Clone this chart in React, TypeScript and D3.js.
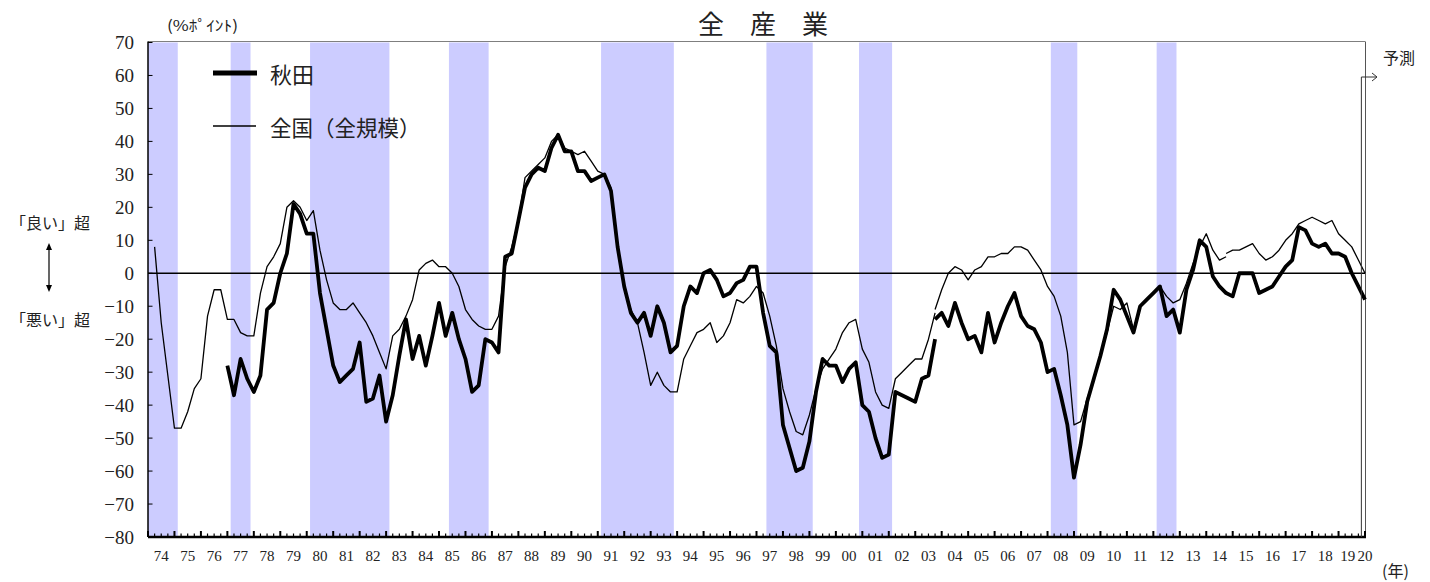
import React from 'react';
import * as d3 from 'd3';

// ---- categories (quarters, 1974Q1 .. 2020Q1) ----
const FIRST_YEAR = 1974;
const LAST_KEY = '2020Q1';
const quarters: string[] = [];
for (let yr = FIRST_YEAR; yr <= 2020; yr++) {
  for (let q = 1; q <= 4; q++) {
    const k = `${yr}Q${q}`;
    quarters.push(k);
    if (k === LAST_KEY) break;
  }
}
const years: number[] = d3.range(FIRST_YEAR, 2021);

// ---- Akita (thick line), old basis 1977Q1..2003Q4 ----
const akitaOldStart = '1977Q1';
const akitaOld = [
  -28, -37, -26, -32, -36, -31, -11, -9,
  0, 6, 21, 18, 12, 12, -6, -17,
  -28, -33, -31, -29, -21, -39, -38, -31,
  -45, -37, -25, -14, -26, -19, -28, -19,
  -9, -19, -12, -20, -26, -36, -34, -20,
  -21, -24, 5, 6, 16, 26, 30, 32,
  31, 38, 42, 37, 37, 31, 31, 28,
  29, 30, 25, 8, -4, -12, -15, -12,
  -19, -10, -15, -24, -22, -10, -4, -6,
  0, 1, -2, -7, -6, -3, -2, 2,
  2, -12, -22, -24, -46, -53, -60, -59,
  -51, -36, -26, -28, -28, -33, -29, -27,
  -40, -42, -50, -56, -55, -36, -37, -38,
  -39, -32, -31, -20,
];
// ---- Akita, new basis 2003Q4..2020Q1 ----
const akitaNewStart = '2003Q4';
const akitaNew = [
  -14, -12, -16, -9, -15, -20, -19, -24,
  -12, -21, -15, -10, -6, -13, -16, -17,
  -21, -30, -29, -37, -46, -62, -52, -39,
  -32, -25, -17, -5, -8, -13, -18, -10,
  -8, -6, -4, -13, -11, -18, -5, 1,
  10, 8, -1, -4, -6, -7, 0, 0,
  0, -6, -5, -4, -1, 2, 4, 14,
  13, 9, 8, 9, 6, 6, 5, 0,
  -4, -8,
];

// ---- National, all sizes (thin line) ----
const nationalOldStart = '1974Q2';
const nationalOld = [
  8, -15, -31, -47, -47, -42, -35, -32,
  -13, -5, -5, -14, -14, -18, -19, -19,
  -6, 2, 5, 9, 20, 22, 20, 16,
  19, 7, -2, -9, -11, -11, -9, -12,
  -15, -19, -24, -29, -19, -17, -13, -8,
  1, 3, 4, 2, 2, 0, -4, -11,
  -14, -16, -17, -17, -13, 2, 8, 16,
  29, 31, 33, 35, 40, 42, 38, 37,
  36, 37, 34, 31, 30, 26, 8, -4,
  -11, -15, -24, -34, -30, -34, -36, -36,
  -26, -22, -18, -17, -15, -21, -19, -15,
  -8, -9, -7, -4, -6, -13, -22, -35,
  -42, -48, -49, -43, -35, -29, -26, -23,
  -18, -15, -14, -23, -27, -36, -40, -41,
  -32, -30, -28, -26, -26, -20, -12,
];
const nationalMidStart = '2003Q4';
const nationalMid = [
  -11, -5, 0, 2, 1, -2, 1, 2,
  5, 5, 6, 6, 8, 8, 7, 4,
  1, -4, -7, -13, -24, -46, -45, -38,
  -32, -25, -18, -10, -11, -9, -17, -10,
  -8, -6, -4, -7, -9, -8, -3, 3,
  8, 12, 7, 4, 5,
];
const nationalNewStart = '2014Q4';
const nationalNew = [
  6, 7, 7, 8, 9, 6, 4, 5,
  7, 10, 12, 15, 16, 17, 16, 15,
  16, 12, 10, 8, 4, 0,
];

// ---- shaded periods (first quarter, last quarter) ----
const shadedPeriods: [string, string][] = [
  ['1974Q1', '1975Q1'],
  ['1977Q2', '1977Q4'],
  ['1980Q2', '1983Q1'],
  ['1985Q3', '1986Q4'],
  ['1991Q2', '1993Q4'],
  ['1997Q3', '1999Q1'],
  ['2001Q1', '2002Q1'],
  ['2008Q2', '2009Q1'],
  ['2012Q2', '2012Q4'],
];

const yTicks = d3.range(-80, 71, 10);

const SERIF = '"Liberation Serif", "DejaVu Serif", serif';
const JP = '"Noto Sans CJK JP", "Noto Sans", sans-serif';

function toPairs(start: string, vals: number[]): [string, number][] {
  const i0 = quarters.indexOf(start);
  return vals.map((v, k) => [quarters[i0 + k], v] as [string, number]);
}

export default function App() {
  const left = 148, right = 1365, top = 42.5, bottom = 537;
  const x = d3.scalePoint<string>().domain(quarters).range([left, right]).padding(0);
  const y = d3.scaleLinear().domain([-80, 70]).range([bottom, top]);
  const step = x.step();
  const line = d3.line<[string, number]>().x(d => x(d[0]) as number).y(d => y(d[1]));

  const akitaSegs = [toPairs(akitaOldStart, akitaOld), toPairs(akitaNewStart, akitaNew)];
  const natSegs = [
    toPairs(nationalOldStart, nationalOld),
    toPairs(nationalMidStart, nationalMid),
    toPairs(nationalNewStart, nationalNew),
  ];

  const fx = (x(LAST_KEY) as number) - step * 0.55;
  const fTop = 77;

  return (
    <svg width={1430} height={582} style={{ position: 'absolute', left: 0, top: 0, background: '#fff' }}>
      {/* title */}
      <text x={763} y={22} fontFamily={JP} fontSize={26} textAnchor="middle" dominantBaseline="central" fill="#222">全　産　業</text>
      <text x={167} y={24} fontFamily={JP} fontSize={15} dominantBaseline="central" fill="#222" textLength={71} lengthAdjust="spacingAndGlyphs">(%ﾎﾟｲﾝﾄ)</text>

      {/* shaded bands */}
      {shadedPeriods.map(([a, b], i) => {
        const x0 = Math.max(left, (x(a) as number) - step / 2);
        const x1 = Math.min(right, (x(b) as number) + step / 2);
        return <rect key={i} x={x0} y={top} width={x1 - x0} height={bottom - top} fill="#ccccff" />;
      })}

      {/* frame */}
      <line x1={left} x2={right} y1={top - 1} y2={top - 1} stroke="#7f7f7f" strokeWidth={1} />
      <line x1={right + 0.5} x2={right + 0.5} y1={top - 1} y2={bottom} stroke="#555" strokeWidth={1} />

      {/* zero line */}
      <line x1={left} x2={right} y1={y(0)} y2={y(0)} stroke="#000" strokeWidth={1.5} />

      {/* y axis */}
      <line x1={left} x2={left} y1={top - 1} y2={bottom} stroke="#000" strokeWidth={1.5} />
      {yTicks.map(t => (
        <g key={t}>
          <line x1={left} x2={left + 4.5} y1={y(t)} y2={y(t)} stroke="#000" strokeWidth={1} />
          <text x={134} y={y(t)} fontFamily={SERIF} fontSize={19} textAnchor="end" dominantBaseline="central" fill="#222">
            {t < 0 ? `\u2212${-t}` : `${t}`}
          </text>
        </g>
      ))}

      {/* x axis */}
      <line x1={left} x2={right + 1} y1={bottom} y2={bottom} stroke="#000" strokeWidth={2.5} />
      {quarters.map((q, i) => {
        const major = q.endsWith('Q1');
        return (
          <line key={q} x1={x(q)} x2={x(q)} y1={bottom} y2={bottom - (major ? 6 : 3.5)}
            stroke="#000" strokeWidth={major ? 2 : 1.2} />
        );
      })}
      {years.map(yr => {
        const q1 = x(`${yr}Q1`) as number;
        let cx = yr === 2020 ? q1 : q1 + step * 2;
        if (yr === 2019) cx -= 4;
        return (
          <text key={yr} x={cx} y={556} fontFamily={SERIF} fontSize={15} textAnchor="middle" dominantBaseline="central" fill="#222">
            {String(yr % 100).padStart(2, '0')}
          </text>
        );
      })}
      <text x={1382} y={570} fontFamily={JP} fontSize={16} dominantBaseline="central" fill="#222">(年)</text>

      {/* series */}
      {natSegs.map((s, i) => (
        <path key={'n' + i} d={line(s) || ''} fill="none" stroke="#000" strokeWidth={1.3} strokeLinejoin="round" />
      ))}
      {akitaSegs.map((s, i) => (
        <path key={'a' + i} d={line(s) || ''} fill="none" stroke="#000" strokeWidth={3.8} strokeLinejoin="round" />
      ))}

      {/* forecast marker */}
      <line x1={fx} x2={fx} y1={fTop} y2={bottom} stroke="#333" strokeWidth={1} />
      <line x1={fx} x2={1377} y1={fTop} y2={fTop} stroke="#333" strokeWidth={1} />
      <polyline points={`1372,${fTop - 4} 1377,${fTop} 1372,${fTop + 4}`} fill="none" stroke="#333" strokeWidth={1} />
      <text x={1383} y={57} fontFamily={JP} fontSize={16} dominantBaseline="central" fill="#222">予測</text>

      {/* legend */}
      <line x1={213} x2={257} y1={73} y2={73} stroke="#000" strokeWidth={5} />
      <text x={270} y={73} fontFamily={JP} fontSize={22} dominantBaseline="central" fill="#222">秋田</text>
      <line x1={213} x2={256} y1={126} y2={126} stroke="#000" strokeWidth={1.3} />
      <text x={270} y={126} fontFamily={JP} fontSize={21.5} dominantBaseline="central" fill="#222">全国（全規模）</text>

      {/* left annotations */}
      <text x={10} y={222} fontFamily={JP} fontSize={16} dominantBaseline="central" fill="#222">「良い」超</text>
      <text x={10} y={319} fontFamily={JP} fontSize={16} dominantBaseline="central" fill="#222">「悪い」超</text>
      <line x1={49} x2={49} y1={247} y2={288} stroke="#000" strokeWidth={1.2} />
      <polygon points="49,243 46,250 52,250" fill="#000" />
      <polygon points="49,292 46,285 52,285" fill="#000" />
    </svg>
  );
}
